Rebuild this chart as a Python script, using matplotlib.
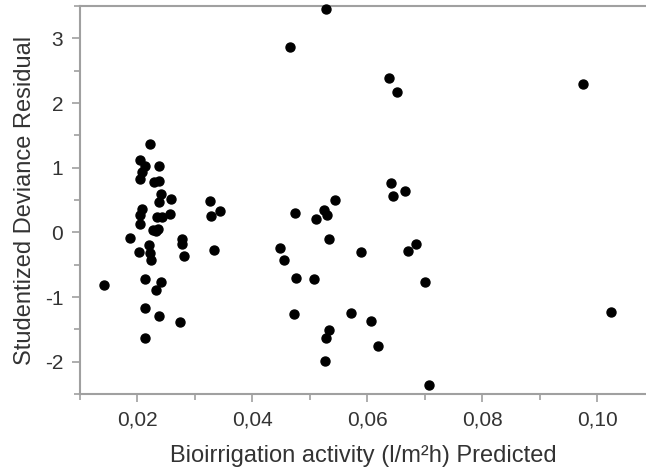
import matplotlib
matplotlib.use("Agg")
import matplotlib.pyplot as plt
from matplotlib.ticker import MultipleLocator, FuncFormatter
import numpy as np

plt.rcParams['font.family'] = ['Liberation Sans', 'DejaVu Sans']

# valores
predicted = np.array([
    0.02221, 0.02038, 0.02138, 0.02375, 0.02082, 0.02042, 0.02296, 0.02369,
    0.02408, 0.02584, 0.02382, 0.03258, 0.03441, 0.03287, 0.02077, 0.02042,
    0.02347, 0.02436, 0.02570, 0.02047, 0.02274, 0.02364, 0.02318, 0.01878,
    0.02784, 0.02767, 0.02204, 0.03328, 0.02024, 0.02221, 0.02244, 0.02808,
    0.01420, 0.02139, 0.02413, 0.02326, 0.02129, 0.02378, 0.02739, 0.02129,
    0.05282, 0.04648, 0.06380, 0.06524, 0.09747, 0.06420, 0.06659, 0.06443,
    0.05432, 0.04735, 0.05240, 0.05293, 0.05108, 0.05328, 0.04474, 0.04556,
    0.05885, 0.06702, 0.06852, 0.04765, 0.05078, 0.07000, 0.04718, 0.05718,
    0.06059, 0.05334, 0.05282, 0.06185, 0.05270, 0.07073, 0.10247])
residual = np.array([
    1.362, 1.126, 1.020, 1.020, 0.928, 0.820, 0.774, 0.792,
    0.588, 0.511, 0.466, 0.491, 0.335, 0.251, 0.365, 0.269,
    0.231, 0.231, 0.280, 0.135, 0.038, 0.045, 0.015, -0.092,
    -0.095, -0.174, -0.188, -0.269, -0.308, -0.312, -0.426, -0.369,
    -0.811, -0.718, -0.769, -0.888, -1.174, -1.292, -1.385, -1.626,
    3.457, 2.874, 2.389, 2.169, 2.303, 0.758, 0.646, 0.565,
    0.497, 0.303, 0.354, 0.262, 0.200, -0.097, -0.235, -0.423,
    -0.303, -0.280, -0.174, -0.708, -0.728, -0.769, -1.257, -1.246,
    -1.369, -1.503, -1.626, -1.754, -1.992, -2.365, -1.238])

gris = '#a0a0a0'
texto = '#333333'

fig = plt.figure(figsize=(6.46, 4.73), dpi=100)
ax = fig.add_axes([0.1238, 0.167, 0.8762, 0.820])

ax.scatter(predicted, residual, s=42, color='black', zorder=3, clip_on=False)

ax.set_xlim(0.01, 0.1085)
ax.set_ylim(-2.5, 3.5)

ax.xaxis.set_major_locator(MultipleLocator(0.02))
ax.xaxis.set_minor_locator(MultipleLocator(0.01))
ax.yaxis.set_major_locator(MultipleLocator(1))
ax.yaxis.set_minor_locator(MultipleLocator(0.5))
ax.xaxis.set_major_formatter(FuncFormatter(lambda v, p: ('%.2f' % v).replace('.', ',')))
ax.yaxis.set_major_formatter(FuncFormatter(lambda v, p: '%d' % round(v)))

for lado in ['left', 'bottom', 'top']:
    ax.spines[lado].set_color(gris)
    ax.spines[lado].set_linewidth(1.5)
ax.spines['right'].set_visible(False)

ax.tick_params(which='major', length=6, width=1.2, color=gris, labelsize=15,
               labelcolor=texto, pad=6)
ax.tick_params(which='minor', length=4, width=1.2, color=gris)

ax.set_xlabel('Bioirrigation activity (l/m²h) Predicted', fontsize=17, color=texto, labelpad=11)
ax.set_ylabel('Studentized Deviance Residual', fontsize=17, color=texto, labelpad=6)

fig.savefig('out.png', dpi=100)
